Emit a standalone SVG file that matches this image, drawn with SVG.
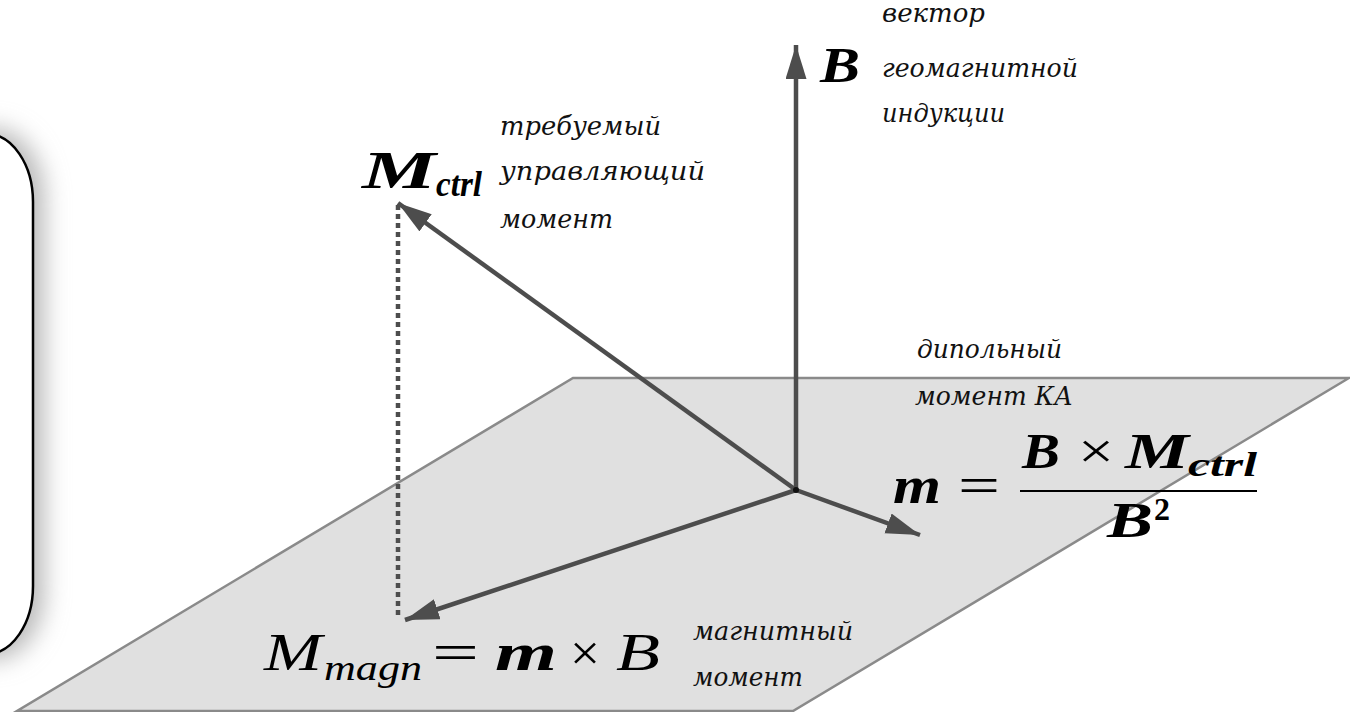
<svg xmlns="http://www.w3.org/2000/svg" width="1350" height="712" viewBox="0 0 1350 712">
<style>
.lbl{font-family:"DejaVu Serif","Liberation Serif",serif;font-style:italic;font-size:26px;fill:#111}
.mb{font-family:"Liberation Serif","Times New Roman",serif;font-style:italic;font-weight:bold;fill:#000}
.mi{font-family:"Liberation Serif","Times New Roman",serif;font-style:italic;fill:#000}
.mr{font-family:"Liberation Serif","Times New Roman",serif;fill:#000}
.vec{stroke:#4d4d4d;stroke-width:4.5;fill:none}
</style>
<defs>
<filter id="blur" x="-1" y="-0.3" width="3" height="1.6"><feGaussianBlur stdDeviation="12"/></filter>
<marker id="ah" markerUnits="userSpaceOnUse" markerWidth="40" markerHeight="24" refX="34" refY="10.5" orient="auto"><path d="M0,0 L34,10.5 L0,21 Z" fill="#4d4d4d"/></marker>
</defs>
<rect width="1350" height="712" fill="#fff"/>
<g id="box">
<rect x="-60" y="128" width="104" height="532" rx="68" fill="#b8b8b8" filter="url(#blur)"/>
<rect x="-60" y="134" width="93" height="520" rx="68" fill="#fff" stroke="#000" stroke-width="2.5"/>
</g>
<g id="plane">
<polygon points="573,378 1349,378 793,711 17,711" fill="#e0e0e0" stroke="#8a8a8a" stroke-width="2.5"/>
</g>
<g id="connectors">
<line class="vec" x1="796" y1="490" x2="796" y2="45" marker-end="url(#ah)"/>
<line class="vec" x1="796" y1="490" x2="398" y2="203" marker-end="url(#ah)"/>
<line class="vec" x1="796" y1="490" x2="405" y2="620" marker-end="url(#ah)"/>
<line class="vec" x1="796" y1="490" x2="920" y2="535" marker-end="url(#ah)"/>
<line x1="398" y1="205" x2="398" y2="616" stroke="#4d4d4d" stroke-width="4.5" stroke-dasharray="5,4"/>
<circle cx="796" cy="490" r="3" fill="#111"/>
</g>
<g id="B">
<text class="mb" x="820" y="82" font-size="50" textLength="40" lengthAdjust="spacingAndGlyphs">B</text>
<text class="lbl" x="882" y="22" textLength="103" lengthAdjust="spacingAndGlyphs">вектор</text>
<text class="lbl" x="882" y="77" textLength="196" lengthAdjust="spacingAndGlyphs">геомагнитной</text>
<text class="lbl" x="882" y="122" textLength="123" lengthAdjust="spacingAndGlyphs">индукции</text>
</g>
<g id="Mctrl">
<text class="mb" x="362" y="188" font-size="52" textLength="74" lengthAdjust="spacingAndGlyphs">M</text>
<text class="mb" x="436" y="196" font-size="36" textLength="46" lengthAdjust="spacingAndGlyphs">ctrl</text>
<text class="lbl" x="500" y="135" textLength="161" lengthAdjust="spacingAndGlyphs">требуемый</text>
<text class="lbl" x="500" y="180" textLength="205" lengthAdjust="spacingAndGlyphs">управляющий</text>
<text class="lbl" x="500" y="228" textLength="113" lengthAdjust="spacingAndGlyphs">момент</text>
</g>
<g id="m">
<text class="lbl" x="917" y="358" textLength="145" lengthAdjust="spacingAndGlyphs">дипольный</text>
<text class="lbl" x="915" y="405" textLength="158" lengthAdjust="spacingAndGlyphs">момент КА</text>
<text class="mb" x="893" y="503" font-size="52" textLength="48" lengthAdjust="spacingAndGlyphs">m</text>
<text class="mr" x="958" y="503" font-size="52" textLength="42" lengthAdjust="spacingAndGlyphs">=</text>
<line x1="1020" y1="491" x2="1257" y2="491" stroke="#000" stroke-width="2.2"/>
<text class="mb" x="1022" y="468" font-size="50" textLength="38" lengthAdjust="spacingAndGlyphs">B</text>
<text class="mr" x="1078" y="468" font-size="50" textLength="36" lengthAdjust="spacingAndGlyphs">×</text>
<text class="mb" x="1125" y="468" font-size="50" textLength="64" lengthAdjust="spacingAndGlyphs">M</text>
<text class="mb" x="1188" y="476" font-size="34" textLength="69" lengthAdjust="spacingAndGlyphs">ctrl</text>
<text class="mb" x="1107" y="537" font-size="50" textLength="46" lengthAdjust="spacingAndGlyphs">B</text>
<text class="mr" x="1154" y="520" font-size="32" font-weight="bold" textLength="16" lengthAdjust="spacingAndGlyphs">2</text>
</g>
<g id="Mmagn">
<text class="mi" x="264" y="670" font-size="52" textLength="58" lengthAdjust="spacingAndGlyphs">M</text>
<text class="mi" x="324" y="680" font-size="36" textLength="98" lengthAdjust="spacingAndGlyphs">magn</text>
<text class="mr" x="432" y="670" font-size="52" textLength="47" lengthAdjust="spacingAndGlyphs">=</text>
<text class="mb" x="495" y="670" font-size="52" textLength="62" lengthAdjust="spacingAndGlyphs">m</text>
<text class="mr" x="570" y="670" font-size="50" textLength="30" lengthAdjust="spacingAndGlyphs">×</text>
<text class="mi" x="616" y="670" font-size="52" textLength="44" lengthAdjust="spacingAndGlyphs">B</text>
<text class="lbl" x="693" y="640" textLength="160" lengthAdjust="spacingAndGlyphs">магнитный</text>
<text class="lbl" x="693" y="686" textLength="110" lengthAdjust="spacingAndGlyphs">момент</text>
</g>
</svg>
